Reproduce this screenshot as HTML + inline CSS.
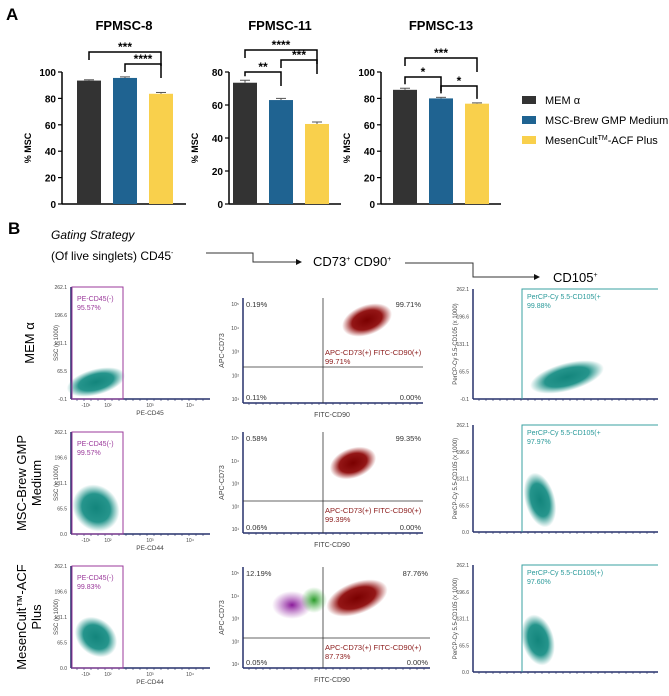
<!DOCTYPE html>
<html><head><meta charset="utf-8"><style>
body{margin:0;background:#fff;}
svg{display:block;font-family:"Liberation Sans",Arial,sans-serif;}
</style></head><body>
<svg id="fig" width="669" height="696" viewBox="0 0 669 696">
<defs>
<radialGradient id="gTeal"><stop offset="0" stop-color="#13857c"/><stop offset="0.6" stop-color="#1a8f86" stop-opacity="0.95"/><stop offset="1" stop-color="#2a9a90" stop-opacity="0"/></radialGradient>
<radialGradient id="gRed"><stop offset="0" stop-color="#7a0000"/><stop offset="0.6" stop-color="#8e0a0a" stop-opacity="0.95"/><stop offset="1" stop-color="#a01a1a" stop-opacity="0"/></radialGradient>
<radialGradient id="gPur"><stop offset="0" stop-color="#8a1a9a"/><stop offset="1" stop-color="#a040b0" stop-opacity="0"/></radialGradient>
<radialGradient id="gGrn"><stop offset="0" stop-color="#2a9a2a"/><stop offset="1" stop-color="#40b040" stop-opacity="0"/></radialGradient>
</defs>
<text x="6" y="20" font-size="17" font-weight="bold">A</text>
<g id="bars"></g>
<g font-size="11">
<rect x="522" y="96" width="14" height="8" fill="#333"/>
<text x="545" y="104">MEM α</text>
<rect x="522" y="116" width="14" height="8" fill="#1f6391"/>
<text x="545" y="124">MSC-Brew GMP Medium</text>
<rect x="522" y="136" width="14" height="8" fill="#f9d04c"/>
<text x="545" y="144">MesenCult<tspan font-size="7" dy="-4">TM</tspan><tspan dy="4">-ACF Plus</tspan></text>
</g>
<text x="8" y="234" font-size="17" font-weight="bold">B</text>
<g font-size="12">
<text x="51" y="239" font-style="italic">Gating Strategy</text>
<text x="51" y="260">(Of live singlets)  CD45<tspan font-size="7" dy="-5">-</tspan></text>
<polyline points="206,253 253,253 253,262 296,262" fill="none" stroke="#333" stroke-width="1"/>
<polygon points="296,259 302,262 296,265" fill="#111"/>
<text x="313" y="266" font-size="13">CD73<tspan font-size="7" dy="-5">+</tspan><tspan dy="5"> CD90</tspan><tspan font-size="7" dy="-5">+</tspan></text>
<polyline points="405,263 473,263 473,277 534,277" fill="none" stroke="#333" stroke-width="1"/>
<polygon points="534,274 540,277 534,280" fill="#111"/>
<text x="553" y="282" font-size="13">CD105<tspan font-size="7" dy="-5">+</tspan></text>
</g>
<g id="flow"></g>
</svg>
<script>
const NS="http://www.w3.org/2000/svg";
function mk(tag,attrs,parent,txt){const e=document.createElementNS(NS,tag);for(const k in attrs)e.setAttribute(k,attrs[k]);if(txt!==undefined)e.textContent=txt;parent.appendChild(e);return e;}
// ---- Bar chart data ----
const chartTitles=["FPMSC-8","FPMSC-11","FPMSC-13"];
const groups=["MEM α","MSC-Brew GMP Medium","MesenCult-ACF Plus"];
const vals8=[93.5,95.5,83.5];
const vals11=[73.5,63,48.5];
const vals13=[86.5,80,76];
const err8=[0.6,0.8,1.0];
const err11=[1.5,1.0,1.2];
const err13=[1.2,0.8,0.6];
const yMax=[100,80,100];
const ticks8=[0,20,40,60,80,100];
const ticks11=[0,20,40,60,80];
const ticks13=[0,20,40,60,80,100];
const sig8=[[0,2,"***"],[1,2,"****"]];
const sig11=[[0,2,"****"],[0,1,"**"],[1,2,"***"]];
const sig13=[[0,2,"***"],[0,1,"*"],[1,2,"*"]];
const colors=["#333333","#1f6391","#f9d04c"];
const layout=[{ax:62,right:186,title:124,b0:77},{ax:229,right:341,title:280,b0:233},{ax:381,right:501,title:441,b0:393}];
const sigY=[[52,64],[50,72,60],[58,77,86]];
const allVals=[vals8,vals11,vals13],allErr=[err8,err11,err13],allTicks=[ticks8,ticks11,ticks13],allSig=[sig8,sig11,sig13];
const bars=document.getElementById('bars');
const Y0=204,Ytop=72,bw=24,step=36;
allVals.forEach((vals,ci)=>{
  const L=layout[ci];
  const g=mk('g',{},bars);
  
  
  const y=v=>Y0-(v/yMax[ci])*(Y0-Ytop);
  const xb=i=>L.b0+i*step;
  const t=mk('text',{x:L.title,y:30,'font-size':13,'font-weight':'bold','text-anchor':'middle'},g,chartTitles[ci]);
  
  
  mk('line',{x1:L.ax,y1:Y0,x2:L.ax,y2:y(yMax[ci]),stroke:'#000','stroke-width':1.5},g);
  mk('line',{x1:L.ax,y1:Y0,x2:L.right,y2:Y0,stroke:'#000','stroke-width':1.5},g);
  allTicks[ci].forEach(tv=>{
    mk('line',{x1:L.ax-4,y1:y(tv),x2:L.ax,y2:y(tv),stroke:'#000','stroke-width':1.2},g);
    const tl=mk('text',{x:L.ax-6,y:y(tv)+4,'font-size':10,'font-weight':'bold','text-anchor':'end'},g,tv);
    
    
  });
  const yl=mk('text',{x:0,y:0,'font-size':9,'font-weight':'bold','text-anchor':'middle',transform:`translate(${L.ax-31},${(Y0+Ytop)/2+10}) rotate(-90)`},g,'% MSC');
  
  
  vals.forEach((v,i)=>{
    const r=mk('rect',{x:xb(i),y:y(v),width:bw,height:Y0-y(v),fill:colors[i]},g);
    
    
    const e=allErr[ci][i];
    mk('line',{x1:xb(i)+bw/2,y1:y(v+e),x2:xb(i)+bw/2,y2:y(v),stroke:'#555'},g);
    mk('line',{x1:xb(i)+7,y1:y(v+e),x2:xb(i)+bw-7,y2:y(v+e),stroke:'#555'},g);
  });
  allSig[ci].forEach((s,k)=>{
    const [a,b,lab]=s;
    const yy=sigY[ci][k];
    const x1=xb(a)+bw/2,x2=xb(b)+bw/2;
    const ya=y(vals[a]+allErr[ci][a])-4,yb=y(vals[b]+allErr[ci][b])-4;
    mk('polyline',{points:`${x1},${Math.min(ya,yy+8)} ${x1},${yy} ${x2},${yy} ${x2},${Math.min(yb,yy+14)}`,fill:'none',stroke:'#000','stroke-width':1.5},g);
    const st=mk('text',{x:(x1+x2)/2,y:yy-1,'font-size':12,'font-weight':'bold','text-anchor':'middle'},g,lab);
    
    
  });
});
// ---- Flow plots ----
const rowLabels=[["MEM α"],["MSC-Brew GMP","Medium"],["MesenCult™-ACF","Plus"]];
const c1Top=[287,432,566],c1Bot=[399,534,668];
const c2Top=[298,432,567],c2Bot=[403,533,668],c2H=[367,501,638],c2R=[423,423,430];
const c3Top=[289,425,565],c3Bot=[399,532,672];
const cd45Pct=["95.57%","99.57%","99.83%"];
const col1X=["PE-CD45","PE-CD44","PE-CD44"];
const q2Pct=["99.71%","99.35%","87.76%"];
const q1Pct=["0.19%","0.58%","12.19%"];
const q3Pct=["0.11%","0.06%","0.05%"];
const dpPct=["99.71%","99.39%","87.73%"];
const cd105Pct=["99.88%","97.97%","97.60%"];
const cd105Lab=["PerCP-Cy 5.5-CD105(+","PerCP-Cy 5.5-CD105(+","PerCP-Cy 5.5-CD105(+)"];
const flow=document.getElementById('flow');
const AX="#26306b";
function axes(g,x0,x1,yt,yb){
  mk('line',{x1:x0,y1:yt,x2:x0,y2:yb,stroke:AX,'stroke-width':1.5},g);
  mk('line',{x1:x0,y1:yb,x2:x1,y2:yb,stroke:AX,'stroke-width':1.5},g);
  for(let x=x0+6;x<x1;x+=7) mk('line',{x1:x,y1:yb,x2:x,y2:yb+2,stroke:AX,'stroke-width':0.6},g);
}
function sm(g,x,y,t,fill,anchor){return mk('text',{x:x,y:y,'font-size':5,fill:fill||'#444','text-anchor':anchor||'end'},g,t);}
rowLabels.forEach((rl,r)=>{
  const g=mk('g',{},flow);
  
  
  const yt=c1Top[r],yb=c1Bot[r],ym=(yt+yb)/2,h=yb-yt;
  const lab=mk('text',{transform:`translate(${rl.length===1?34:26},${ym}) rotate(-90)`,'font-size':13,'text-anchor':'middle'},g);
  
  
  rl.forEach((s,i)=>mk('tspan',{x:0,dy:i?15:0},lab,s));
  const c1=mk('g',{},g);
  
  
  axes(c1,71,210,yt,yb);
  [["262.1",0],["196.6",0.25],["131.1",0.5],["65.5",0.75],[r===0?"-0.1":"0.0",1]].forEach(([t,f])=>sm(c1,67,yt+f*h+2,t));
  mk('text',{transform:`translate(58,${ym}) rotate(-90)`,'font-size':6,fill:'#444','text-anchor':'middle'},c1,'SSC (x 1000)');
  [["-10¹",86],["10²",108],["10³",150],["10⁴",190]].forEach(([t,x])=>sm(c1,x,yb+8,t,'#444','middle'));
  mk('text',{x:150,y:yb+16,'font-size':6.5,fill:'#444','text-anchor':'middle'},c1,col1X[r]);
  const cy1=[382,508,637][r];
  mk('ellipse',{cx:96,cy:cy1,rx:[30,22,18][r],ry:[13,25,23][r],fill:'url(#gTeal)',transform:`rotate(${[-15,-45,-50][r]} 96 ${cy1})`},c1);
  mk('rect',{x:72,y:yt,width:51,height:h,fill:'none',stroke:'#9b3a9b','stroke-width':1},c1);
  mk('text',{x:77,y:yt+14,'font-size':7,fill:'#9b3a9b'},c1,'PE-CD45(-)');
  mk('text',{x:77,y:yt+23,'font-size':7,fill:'#9b3a9b'},c1,cd45Pct[r]);
  const c2=mk('g',{},g);
  
  
  const t2=c2Top[r],b2=c2Bot[r],hy=c2H[r],R=c2R[r];
  axes(c2,243,R,t2,b2);
  mk('line',{x1:323,y1:t2,x2:323,y2:b2,stroke:'#333','stroke-width':0.8},c2);
  mk('line',{x1:243,y1:hy,x2:R,y2:hy,stroke:'#333','stroke-width':0.8},c2);
  ["10⁵","10⁴","10³","10²","10¹"].forEach((t,i)=>sm(c2,239,t2+8+i*(b2-t2-10)/4,t));
  const cx2=[367,353,357][r],cy2=[320,463,598][r];
  if(r===2){
    mk('ellipse',{cx:292,cy:605,rx:20,ry:14,fill:'url(#gPur)'},c2);
    mk('ellipse',{cx:314,cy:600,rx:13,ry:13,fill:'url(#gGrn)'},c2);
  }
  mk('ellipse',{cx:cx2,cy:cy2,rx:[26,24,32][r],ry:[15,15,16][r],fill:'url(#gRed)',transform:`rotate(-20 ${cx2} ${cy2})`},c2);
  mk('text',{x:246,y:t2+9,'font-size':7.5,fill:'#333'},c2,q1Pct[r]);
  mk('text',{x:R-2,y:t2+9,'font-size':7.5,fill:'#333','text-anchor':'end'},c2,q2Pct[r]);
  mk('text',{x:246,y:b2-3,'font-size':7.5,fill:'#333'},c2,q3Pct[r]);
  mk('text',{x:R-2,y:b2-3,'font-size':7.5,fill:'#333','text-anchor':'end'},c2,'0.00%');
  mk('text',{x:325,y:hy+[-12,12,12][r],'font-size':7.5,fill:'#8b1a1a'},c2,'APC-CD73(+) FITC-CD90(+)');
  mk('text',{x:325,y:hy+[-3,21,21][r],'font-size':7.5,fill:'#8b1a1a'},c2,dpPct[r]);
  mk('text',{transform:`translate(224,${(t2+b2)/2}) rotate(-90)`,'font-size':7,fill:'#444','text-anchor':'middle'},c2,'APC-CD73');
  mk('text',{x:332,y:b2+14,'font-size':7,fill:'#444','text-anchor':'middle'},c2,'FITC-CD90');
  const c3=mk('g',{},g);
  
  
  const t3=c3Top[r],b3=c3Bot[r],h3=b3-t3;
  axes(c3,473,658,t3,b3);
  [["262.1",0],["196.6",0.25],["131.1",0.5],["65.5",0.75],[r===0?"-0.1":"0.0",1]].forEach(([t,f])=>sm(c3,469,t3+f*h3+2,t));
  mk('text',{transform:`translate(457,${(t3+b3)/2}) rotate(-90)`,'font-size':6,fill:'#444','text-anchor':'middle'},c3,'PerCP-Cy 5.5-CD105 (x 1000)');
  const cx3=[567,540,538][r],cy3=[377,500,640][r];
  mk('ellipse',{cx:cx3,cy:cy3,rx:[38,15,16][r],ry:[14,28,26][r],fill:'url(#gTeal)',transform:`rotate(-15 ${cx3} ${cy3})`},c3);
  mk('polyline',{points:`522,${b3} 522,${t3} 658,${t3}`,fill:'none',stroke:'#3aa0a0','stroke-width':1},c3);
  mk('text',{x:527,y:t3+10,'font-size':7,fill:'#2a9a9a'},c3,cd105Lab[r]);
  mk('text',{x:527,y:t3+19,'font-size':7,fill:'#2a9a9a'},c3,cd105Pct[r]);
});
</script>
</body></html>
